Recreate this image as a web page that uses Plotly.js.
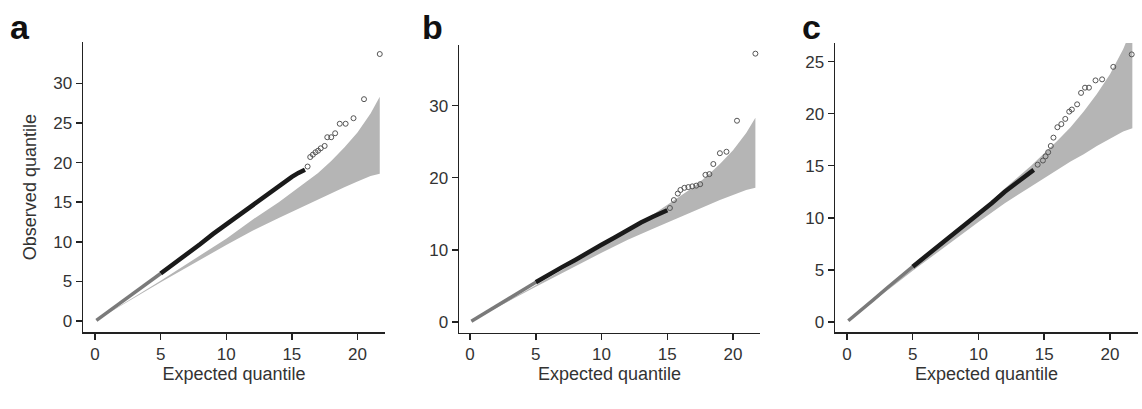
<!DOCTYPE html>
<html>
<head>
<meta charset="utf-8">
<script src="https://cdn.plot.ly/plotly-3.0.1.min.js"></script>
<style>body{margin:0;background:#fff}#plot{width:1142px;height:409px}</style>
</head>
<body>
<div id="plot"></div>
<script>
// Shared null band (expected quantile vs. bounds).
var band_x = [0, 5, 10, 12, 14, 16, 17, 18, 19, 20, 21, 21.7];
var band_lo = [0, 4.9, 9.6, 11.4, 13.0, 14.6, 15.4, 16.1, 16.9, 17.6, 18.3, 18.6];
var band_hi = [0, 5.1, 10.4, 12.8, 15.0, 17.4, 18.7, 20.2, 21.9, 23.8, 26.2, 28.3];

// Panel a
var a_low_x = [0.1, 1, 2, 3, 4, 5];
var a_low_y = [0.1, 1.2, 2.4, 3.6, 4.8, 6.0];
var a_dense_x = [5, 6, 7, 8, 9, 10, 11, 12, 13, 14, 15, 15.5, 16.0];
var a_dense_y = [6.0, 7.2, 8.5, 9.7, 11.0, 12.2, 13.4, 14.7, 15.9, 17.1, 18.2, 18.7, 19.1];
var a_tail_x = [16.2, 16.4, 16.6, 16.8, 17.0, 17.2, 17.5, 17.7, 18.0, 18.3, 18.65, 19.1, 19.7, 20.5, 21.7];
var a_tail_y = [19.5, 20.7, 21.0, 21.3, 21.5, 21.8, 22.1, 23.2, 23.2, 23.7, 24.9, 24.9, 25.6, 28.0, 33.7];
var a_yticks = [0, 5, 10, 15, 20, 25, 30];

// Panel b
var b_low_x = [0.1, 1, 2, 3, 4, 5];
var b_low_y = [0.1, 1.1, 2.2, 3.3, 4.4, 5.5];
var b_dense_x = [5, 6, 7, 8, 9, 10, 11, 12, 13, 13.9, 14.5, 15.0];
var b_dense_y = [5.5, 6.6, 7.6, 8.6, 9.7, 10.7, 11.7, 12.8, 13.8, 14.6, 15.0, 15.5];
var b_tail_x = [15.2, 15.5, 15.8, 16.0, 16.3, 16.6, 16.9, 17.2, 17.5, 17.9, 18.2, 18.5, 19.0, 19.5, 20.3, 21.7];
var b_tail_y = [15.8, 16.9, 17.8, 18.3, 18.6, 18.7, 18.8, 18.9, 19.1, 20.4, 20.5, 21.9, 23.4, 23.6, 27.9, 37.2];
var b_yticks = [0, 10, 20, 30];

// Panel c
var c_low_x = [0.1, 1, 2, 3, 4, 5];
var c_low_y = [0.1, 1.1, 2.1, 3.2, 4.2, 5.3];
var c_dense_x = [5, 6, 7, 8, 9, 10, 11, 12, 13, 13.7, 14.2];
var c_dense_y = [5.3, 6.3, 7.3, 8.4, 9.4, 10.4, 11.4, 12.5, 13.5, 14.1, 14.6];
var c_tail_x = [14.5, 14.9, 15.1, 15.3, 15.5, 15.7, 16.0, 16.3, 16.6, 16.9, 17.1, 17.5, 17.8, 18.1, 18.4, 18.9, 19.4, 20.25, 21.65];
var c_tail_y = [15.1, 15.5, 15.9, 16.3, 16.9, 17.7, 18.7, 19.0, 19.5, 20.2, 20.4, 20.9, 22.0, 22.5, 22.5, 23.2, 23.3, 24.5, 25.7];
var c_yticks = [0, 5, 10, 15, 20, 25];

var x_ticks = [0, 5, 10, 15, 20];

var panels = [
  {low_x: a_low_x, low_y: a_low_y, dense_x: a_dense_x, dense_y: a_dense_y, tail_x: a_tail_x, tail_y: a_tail_y, yt: a_yticks,
   xd: [83/1142, 385/1142], yd: [0.188, 0.897], xr: [-0.92, 22.1], yr: [-1.39, 35.2], ytitle: 'Observed quantile'},
  {low_x: b_low_x, low_y: b_low_y, dense_x: b_dense_x, dense_y: b_dense_y, tail_x: b_tail_x, tail_y: b_tail_y, yt: b_yticks,
   xd: [459/1142, 760/1142], yd: [0.187, 0.890], xr: [-0.84, 22.05], yr: [-1.46, 38.4], ytitle: ''},
  {low_x: c_low_x, low_y: c_low_y, dense_x: c_dense_x, dense_y: c_dense_y, tail_x: c_tail_x, tail_y: c_tail_y, yt: c_yticks,
   xd: [835/1142, 1138/1142], yd: [0.188, 0.895], xr: [-0.91, 22.13], yr: [-0.99, 26.8], ytitle: ''}
];

var traces = [];
var layout = {
  width: 1142, height: 409,
  margin: {l: 0, r: 0, t: 0, b: 0},
  paper_bgcolor: '#fff', plot_bgcolor: '#fff',
  showlegend: false,
  font: {family: 'Liberation Sans, Arial, sans-serif', color: '#333', size: 17},
  annotations: []
};
var letters = ['a', 'b', 'c'];
var letter_x = [8, 420, 800];

panels.forEach(function(p, i){
  var n = i === 0 ? '' : String(i + 1);
  var xa = 'x' + n, ya = 'y' + n;
  traces.push({x: band_x, y: band_hi, xaxis: xa, yaxis: ya, mode: 'lines', line: {width: 0, color: '#b5b5b5'}, hoverinfo: 'skip'});
  traces.push({x: band_x, y: band_lo, xaxis: xa, yaxis: ya, mode: 'lines', fill: 'tonexty', fillcolor: '#b5b5b5', line: {width: 0, color: '#b5b5b5'}, hoverinfo: 'skip'});
  traces.push({x: p.low_x, y: p.low_y, xaxis: xa, yaxis: ya, mode: 'lines', line: {width: 3.5, color: '#7a7a7a'}});
  traces.push({x: p.dense_x, y: p.dense_y, xaxis: xa, yaxis: ya, mode: 'lines', line: {width: 4.5, color: '#1a1a1a'}});
  traces.push({x: p.tail_x, y: p.tail_y, xaxis: xa, yaxis: ya, mode: 'markers',
    marker: {symbol: 'circle-open', size: 5, color: '#555', line: {width: 1}}});
  layout['xaxis' + n] = {
    domain: p.xd, range: p.xr, anchor: ya, tickvals: x_ticks,
    showgrid: false, zeroline: false, showline: true, linecolor: '#222', linewidth: 1.5,
    ticks: 'outside', ticklen: 6, tickcolor: '#222', tickwidth: 1.5,
    title: {text: 'Expected quantile', font: {size: 18, color: '#333'}, standoff: 3}
  };
  layout['yaxis' + n] = {
    domain: p.yd, range: p.yr, anchor: xa, tickvals: p.yt,
    showgrid: false, zeroline: false, showline: true, linecolor: '#222', linewidth: 1.5,
    ticks: 'outside', ticklen: 6, tickcolor: '#222', tickwidth: 1.5,
    title: {text: p.ytitle, font: {size: 18, color: '#333'}, standoff: 12}
  };
  layout.annotations.push({text: '<b>' + letters[i] + '</b>', xref: 'paper', yref: 'paper',
    x: letter_x[i] / 1142, y: 0.985, xanchor: 'left', yanchor: 'top', showarrow: false,
    font: {size: 34, color: '#111', family: 'Liberation Sans, Arial, sans-serif'}});
});

Plotly.newPlot('plot', traces, layout, {displayModeBar: false, staticPlot: true});
</script>
</body>
</html>
